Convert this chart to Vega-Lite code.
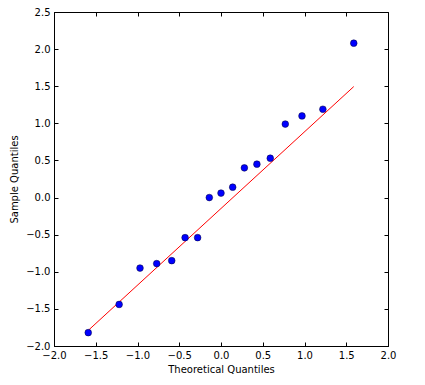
{
  "$schema": "https://vega.github.io/schema/vega-lite/v6.json",
  "width": 334,
  "height": 334,
  "autosize": "none",
  "padding": {"left": 54, "top": 12, "right": 37, "bottom": 39},
  "background": "white",
  "config": {
    "font": "DejaVu Sans",
    "view": {"stroke": "black", "strokeWidth": 1},
    "axis": {"grid": false, "domainColor": "black", "tickColor": "black", "labelColor": "black", "titleColor": "black", "labelFontSize": 10, "titleFontSize": 10, "titleFontWeight": "normal", "labelFont": "DejaVu Sans", "titleFont": "DejaVu Sans", "tickSize": -4, "labelPadding": 8, "labelFlush": false, "labelOverlap": false, "labelBound": false}
  },
  "datasets": {
    "pts": [
      {"theoretical": -1.59, "sample": -1.82},
      {"theoretical": -1.22, "sample": -1.44},
      {"theoretical": -0.97, "sample": -0.95},
      {"theoretical": -0.77, "sample": -0.89},
      {"theoretical": -0.59, "sample": -0.85},
      {"theoretical": -0.43, "sample": -0.54},
      {"theoretical": -0.28, "sample": -0.54},
      {"theoretical": -0.14, "sample": 0.0},
      {"theoretical": 0.0, "sample": 0.06},
      {"theoretical": 0.14, "sample": 0.14},
      {"theoretical": 0.28, "sample": 0.40},
      {"theoretical": 0.43, "sample": 0.45},
      {"theoretical": 0.59, "sample": 0.53},
      {"theoretical": 0.77, "sample": 0.99},
      {"theoretical": 0.97, "sample": 1.10},
      {"theoretical": 1.22, "sample": 1.19},
      {"theoretical": 1.59, "sample": 2.08}
    ],
    "fit": [
      {"theoretical": -1.59, "sample": -1.79},
      {"theoretical": 1.59, "sample": 1.495}
    ]
  },
  "layer": [
    {
      "data": {"name": "fit"},
      "mark": {"type": "line", "color": "red", "strokeWidth": 1},
      "encoding": {
        "x": {"field": "theoretical", "type": "quantitative", "scale": {"domain": [-2, 2], "nice": false, "zero": false}, "axis": {"title": "Theoretical Quantiles", "values": [-2, -1.5, -1, -0.5, 0, 0.5, 1, 1.5, 2], "format": ".1f", "titlePadding": 4}},
        "y": {"field": "sample", "type": "quantitative", "scale": {"domain": [-2, 2.5], "nice": false, "zero": false}, "axis": {"title": "Sample Quantiles", "values": [-2, -1.5, -1, -0.5, 0, 0.5, 1, 1.5, 2, 2.5], "format": ".1f", "titlePadding": 6}}
      }
    },
    {
      "data": {"name": "pts"},
      "mark": {"type": "point", "filled": true, "fill": "#0000ff", "stroke": "#000033", "strokeWidth": 0.5, "size": 45, "opacity": 1},
      "encoding": {
        "x": {"field": "theoretical", "type": "quantitative", "axis": {"orient": "top", "labels": false, "title": null, "domain": false, "values": [-2, -1.5, -1, -0.5, 0, 0.5, 1, 1.5, 2]}},
        "y": {"field": "sample", "type": "quantitative", "axis": {"orient": "right", "labels": false, "title": null, "domain": false, "values": [-2, -1.5, -1, -0.5, 0, 0.5, 1, 1.5, 2, 2.5]}}
      }
    }
  ],
  "resolve": {"axis": {"x": "independent", "y": "independent"}}
}
